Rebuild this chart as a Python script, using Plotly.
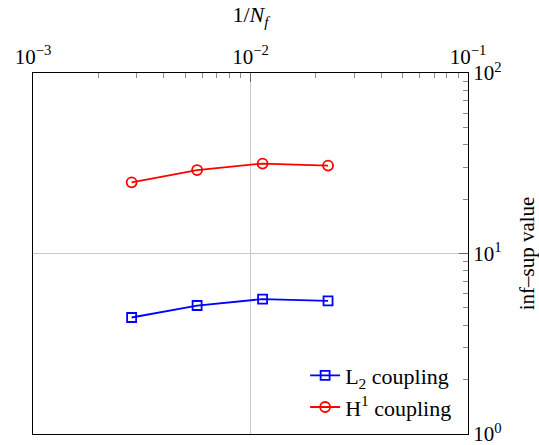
import plotly.graph_objects as go

# Data
inv_nf = [1/352, 1/176, 1/88, 1/44]
l2_coupling = [4.42, 5.15, 5.59, 5.47]
h1_coupling = [24.8, 29.0, 31.5, 30.7]

x_major = [1e-3, 1e-2, 1e-1]
x_labels = ["10<sup>−3</sup>", "10<sup>−2</sup>", "10<sup>−1</sup>"]
y_major = [1, 10, 100]
y_labels = ["10<sup>0</sup>", "10<sup>1</sup>", "10<sup>2</sup>"]
x_minor = [m * 10**e for e in (-3, -2) for m in range(2, 10)]
y_minor = [m * 10**e for e in (0, 1) for m in range(2, 10)]

FONT = "Liberation Serif"

fig = go.Figure()
fig.add_trace(go.Scatter(
    x=inv_nf, y=l2_coupling, mode="lines+markers",
    name="L<sub>2</sub> coupling",
    line=dict(color="#0000ff", width=1.8),
    marker=dict(symbol="square-open", size=9, color="#0000ff", line=dict(width=1.8)),
))
fig.add_trace(go.Scatter(
    x=inv_nf, y=h1_coupling, mode="lines+markers",
    name="H<sup>1</sup> coupling",
    line=dict(color="#ff0000", width=1.8),
    marker=dict(symbol="circle-open", size=10, color="#ff0000", line=dict(width=1.8)),
))

fig.update_layout(
    width=539, height=445,
    margin=dict(l=33, r=71, t=73, b=11, autoexpand=False),
    paper_bgcolor="white", plot_bgcolor="white",
    font=dict(family=FONT, size=21, color="black"),
    showlegend=True,
    legend=dict(
        x=0.975, y=0.015, xanchor="right", yanchor="bottom",
        bgcolor="rgba(255,255,255,0)", borderwidth=0,
        font=dict(family=FONT, size=22),
        tracegroupgap=0, itemwidth=30,
    ),
    xaxis=dict(
        type="log", side="top", range=[-3, -1],
        tickvals=x_major, ticktext=x_labels, ticklabeloverflow="allow",
        ticks="inside", ticklen=9, tickcolor="#666", tickwidth=1,
        showline=True, linecolor="black", linewidth=1.2, mirror=True,
        showgrid=True, gridcolor="#c8c8c8", gridwidth=1,
        zeroline=False, automargin=False,
        minor=dict(tickvals=x_minor, ticks="inside", ticklen=5, tickcolor="#888", showgrid=False),
        title=dict(text="1/<i>N</i><sub><i>f</i></sub>", standoff=12,
                   font=dict(family=FONT, size=22)),
        tickfont=dict(family=FONT, size=21),
    ),
    yaxis=dict(
        type="log", side="right", range=[0, 2],
        tickvals=y_major, ticktext=y_labels, ticklabeloverflow="allow",
        ticks="inside", ticklen=9, tickcolor="#666", tickwidth=1,
        showline=True, linecolor="black", linewidth=1.2, mirror=True,
        showgrid=True, gridcolor="#c8c8c8", gridwidth=1,
        zeroline=False, automargin=False,
        minor=dict(tickvals=y_minor, ticks="inside", ticklen=5, tickcolor="#888", showgrid=False),
        title=dict(text="inf–sup value", standoff=18,
                   font=dict(family=FONT, size=21)),
        tickfont=dict(family=FONT, size=21),
    ),
)

fig.write_html("out.html", config={"displayModeBar": False},
               post_script="document.body.style.margin='0px';")
